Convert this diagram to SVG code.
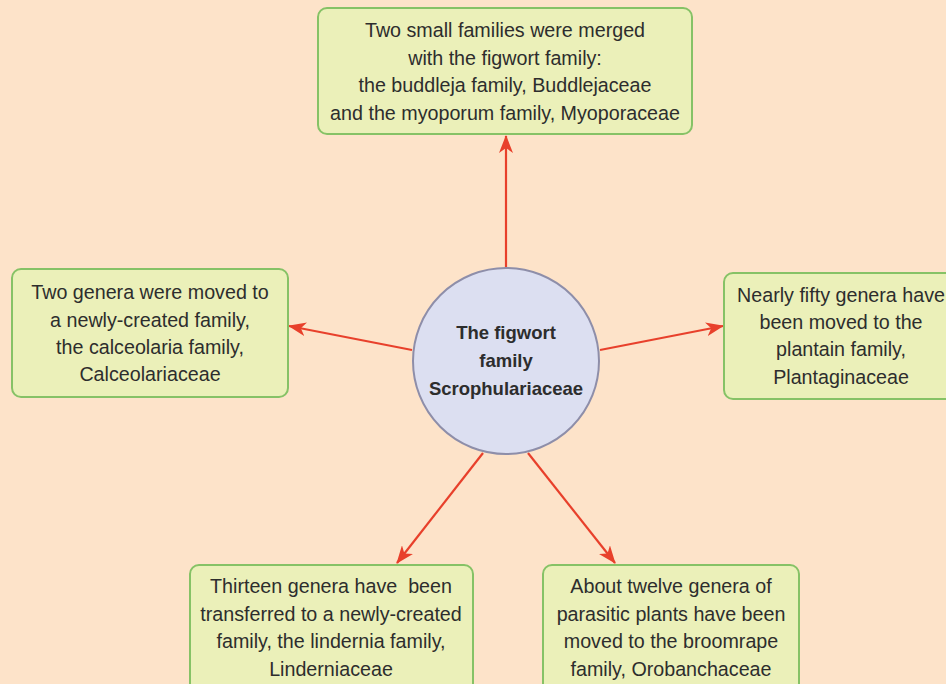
<svg xmlns="http://www.w3.org/2000/svg" width="946" height="684" viewBox="0 0 946 684">
<defs>
<style>
.box{fill:#ebf0b9;stroke:#86c266;stroke-width:2}
.t{font-family:"Liberation Sans",Arial,sans-serif;font-size:19.7px;fill:#2d2d2d;text-anchor:middle}
.b{font-weight:bold;font-size:18.5px}
.c{stroke:#e8402b;stroke-width:2.2;fill:none}
</style>
<marker id="ah" viewBox="0 0 18 14" refX="17" refY="7" markerWidth="18" markerHeight="14" markerUnits="userSpaceOnUse" orient="auto">
<path d="M0,0 L18,7 L0,14 L5,7 Z" fill="#e8402b"/>
</marker>
</defs>
<rect width="946" height="684" fill="#fde3c9"/>
<g id="connectors">
<line class="c" x1="506" y1="268" x2="506" y2="136" marker-end="url(#ah)"/>
<line class="c" x1="412" y1="350" x2="289" y2="326" marker-end="url(#ah)"/>
<line class="c" x1="600" y1="350" x2="723" y2="326" marker-end="url(#ah)"/>
<line class="c" x1="483" y1="453" x2="397" y2="563" marker-end="url(#ah)"/>
<line class="c" x1="528" y1="453" x2="615" y2="563" marker-end="url(#ah)"/>
</g>
<g id="center">
<circle cx="506" cy="361" r="93" fill="#dcdff1" stroke="#8e8ea9" stroke-width="2"/>
<text class="t b" x="506" y="339">The figwort</text>
<text class="t b" x="506" y="367">family</text>
<text class="t b" x="506" y="395">Scrophulariaceae</text>
</g>
<g id="top">
<rect class="box" x="318" y="8" width="374" height="126" rx="9"/>
<text class="t" x="505" y="37">Two small families were merged</text>
<text class="t" x="505" y="64.5">with the figwort family:</text>
<text class="t" x="505" y="92">the buddleja family, Buddlejaceae</text>
<text class="t" x="505" y="119.5">and the myoporum family, Myoporaceae</text>
</g>
<g id="left">
<rect class="box" x="12" y="269" width="276" height="128" rx="9"/>
<text class="t" x="150" y="299">Two genera were moved to</text>
<text class="t" x="150" y="327">a newly-created family,</text>
<text class="t" x="150" y="354">the calceolaria family,</text>
<text class="t" x="150" y="381">Calceolariaceae</text>
</g>
<g id="right">
<rect class="box" x="724" y="273" width="240" height="126" rx="9"/>
<text class="t" x="841" y="302">Nearly fifty genera have</text>
<text class="t" x="841" y="329">been moved to the</text>
<text class="t" x="841" y="356">plantain family,</text>
<text class="t" x="841" y="384">Plantaginaceae</text>
</g>
<g id="bottom-left">
<rect class="box" x="190" y="565" width="283" height="140" rx="9"/>
<text class="t" x="331" y="593">Thirteen genera have&#160; been</text>
<text class="t" x="331" y="621">transferred to a newly-created</text>
<text class="t" x="331" y="648">family, the lindernia family,</text>
<text class="t" x="331" y="676">Linderniaceae</text>
</g>
<g id="bottom-right">
<rect class="box" x="543" y="565" width="256" height="140" rx="9"/>
<text class="t" x="671" y="593">About twelve genera of</text>
<text class="t" x="671" y="621">parasitic plants have been</text>
<text class="t" x="671" y="648">moved to the broomrape</text>
<text class="t" x="671" y="676">family, Orobanchaceae</text>
</g>
</svg>
